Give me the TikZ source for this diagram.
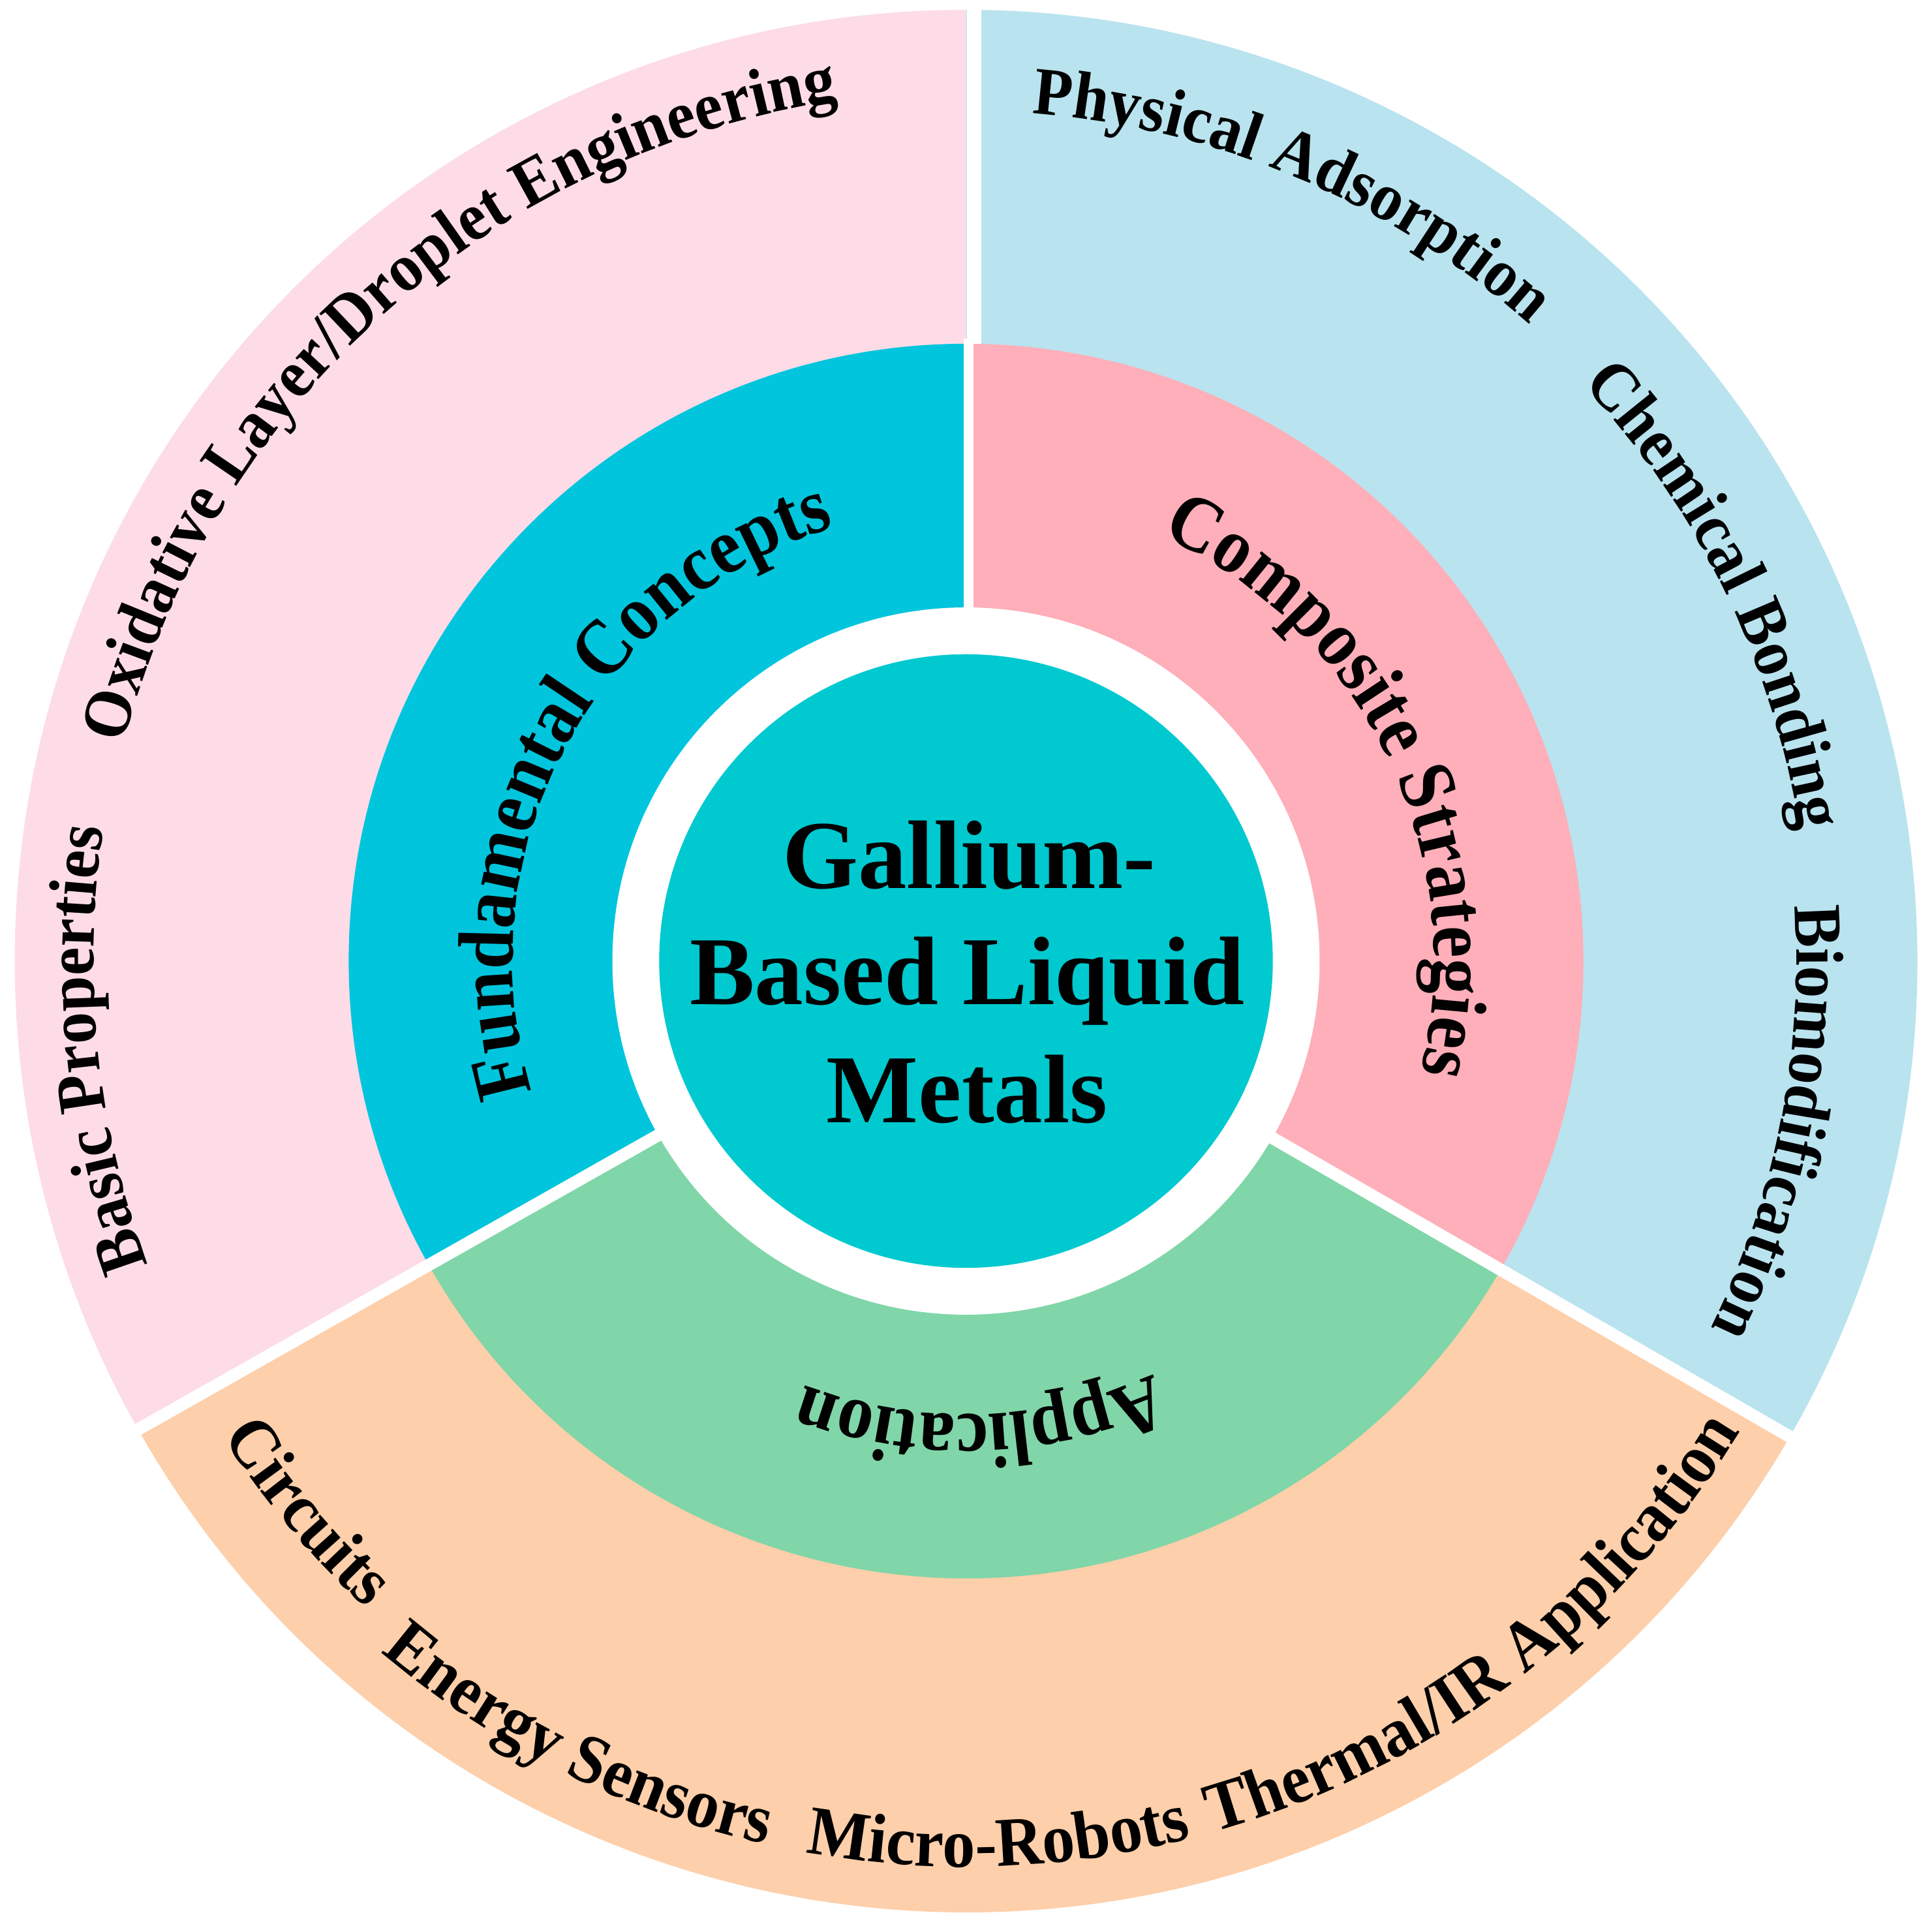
\documentclass[tikz,border=0pt]{standalone}
\usepackage{fontspec}
\setmainfont{Liberation Serif}
\newfontfamily\midarcfont{Liberation Serif}[FakeStretch=0.91]
\newfontfamily\outarcfont{Liberation Serif}[FakeStretch=0.94]
\usetikzlibrary{decorations.text}
\definecolor{outerpink}{HTML}{FDDCE7}
\definecolor{outerblue}{HTML}{B9E3EF}
\definecolor{outerpeach}{HTML}{FDCFAA}
\definecolor{midcyan}{HTML}{00C5DD}
\definecolor{midpink}{HTML}{FEAFB9}
\definecolor{midgreen}{HTML}{80D6A8}
\definecolor{coreteal}{HTML}{00C9D0}
% clockwise arc text: mid angle, baseline radius, font commands, text
\newcommand\cwtext[4]{%
  \path[decorate, decoration={text along path, text align=center,
      text={|#3|#4}}]
    ({#1+70}:#2) arc[start angle={#1+70}, end angle={#1-70}, radius=#2];}
% counter-clockwise arc text
\newcommand\ccwtext[4]{%
  \path[decorate, decoration={text along path, text align=center,
      text={|#3|#4}}]
    ({#1-70}:#2) arc[start angle={#1-70}, end angle={#1+70}, radius=#2];}
\newcommand\midfmt{\midarcfont\bfseries\fontsize{64pt}{64pt}\selectfont}
\newcommand\outfmt{\outarcfont\bfseries\fontsize{55pt}{55pt}\selectfont}
\newcommand\botfmt{\outarcfont\bfseries\fontsize{56.5pt}{56.5pt}\selectfont}
\tikzset{
  divider/.style={white, line width=#1},
  coretext/.style={anchor=base, font=\fontsize{79pt}{95pt}\selectfont\bfseries, inner sep=0pt}
}
\begin{document}
\begin{tikzpicture}
\useasboundingbox[fill=white] (-784pt,-786pt) rectangle (784pt,780pt);
% outer ring sectors
\fill[outerpink] (0,0) -- (90:772pt) arc[start angle=90, end angle=209.5, radius=772pt] -- cycle;
\fill[outerblue] (0,0) -- (-30:772pt) arc[start angle=-30, end angle=90, radius=772pt] -- cycle;
\fill[outerpeach] (0,0) -- (209.5:772pt) arc[start angle=209.5, end angle=330, radius=772pt] -- cycle;
% middle ring sectors
\fill[midcyan] (0,0) -- (90:501pt) arc[start angle=90, end angle=209.5, radius=501pt] -- cycle;
\fill[midpink] (0,0) -- (-30:501pt) arc[start angle=-30, end angle=90, radius=501pt] -- cycle;
\fill[midgreen] (0,0) -- (209.5:501pt) arc[start angle=209.5, end angle=330, radius=501pt] -- cycle;
% dividers
\draw[divider=11.5pt] (6.8pt,501pt) -- (6.8pt,780pt);
\draw[divider=8pt] (2.3pt,280pt) -- (2.3pt,505pt);
\draw[divider=10pt] (209.5:280pt) -- (209.5:780pt);
\draw[divider=10pt] (330:280pt) -- (330:780pt);
% core
\fill[white] (0,0) circle[radius=287pt];
\fill[coreteal] (0,0) circle[radius=249pt];
\node[coretext] (l1) at (2.5pt,59pt) {Gallium-};
\node[coretext] (l2) at (1pt,-35pt) {Based Liquid};
\node[coretext] (l3) at (1pt,-131pt) {Metals};
% middle ring labels
\cwtext{151.8}{368pt}{\midfmt}{Fundamental Concepts}
\cwtext{25.8}{380pt}{\midfmt}{Composite Strategies}
\cwtext{-88.2}{368pt}{\midfmt}{Application}
% outer ring labels
\cwtext{185.8}{708pt}{\outfmt}{Basic Properties}
\cwtext{132}{706pt}{\outfmt}{Oxidative Layer/Droplet Engineering}
\cwtext{67}{690pt}{\outfmt}{Physical Adsorption}
\cwtext{26}{685pt}{\outfmt}{Chemical Bonding}
\cwtext{-11.2}{674pt}{\outfmt}{Biomodification}
\ccwtext{219.9}{716pt}{\botfmt}{Circuits}
\ccwtext{243.5}{735pt}{\botfmt}{Energy Sensors}
\ccwtext{272.1}{735pt}{\botfmt}{Micro-Robots}
\ccwtext{307.3}{735pt}{\botfmt}{Thermal/IR Application}
\end{tikzpicture}
\end{document}
